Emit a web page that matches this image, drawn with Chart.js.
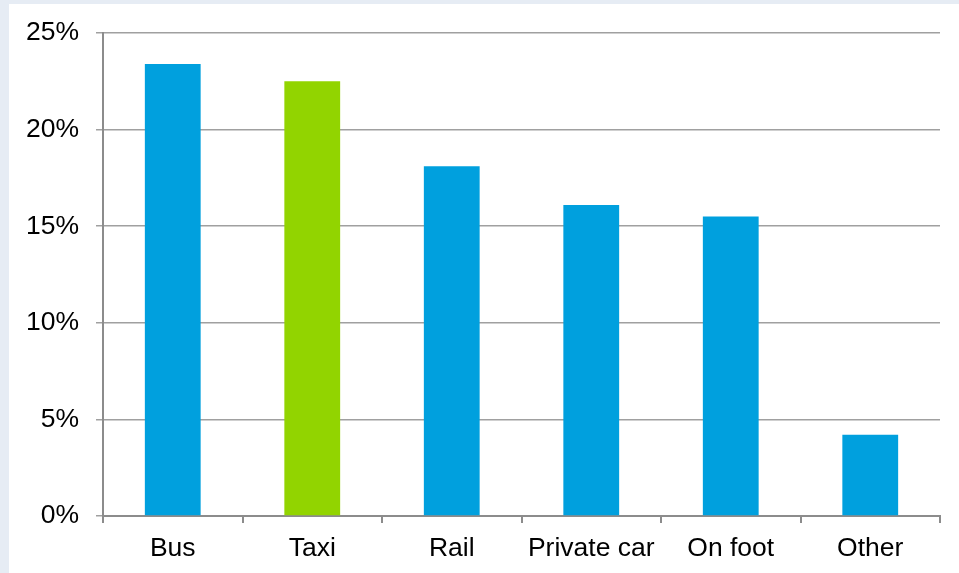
<!DOCTYPE html>
<html>
<head>
<meta charset="utf-8">
<script src="https://cdn.jsdelivr.net/npm/chart.js@4"></script>
<style>
  html, body { margin: 0; padding: 0; background: #e6ecf4; }
  #wrap { position: absolute; left: 9px; top: 4px; width: 950px; height: 569px; background: #fff; }
  canvas { display: block; }
</style>
</head>
<body>
<div id="wrap"><canvas id="myChart" width="950" height="569"></canvas></div>
<script>
const modes = ['Bus', 'Taxi', 'Rail', 'Private car', 'On foot', 'Other'];
const shares = [23.4, 22.5, 18.1, 16.1, 15.5, 4.2];
const barColors = ['#00a0de', '#92d400', '#00a0de', '#00a0de', '#00a0de', '#00a0de'];
const yTicks = [0, 5, 10, 15, 20, 25];

const labelFont = { family: '"Liberation Sans", Arial, sans-serif', size: 26.5 };

new Chart(document.getElementById('myChart'), {
  type: 'bar',
  data: {
    labels: modes,
    datasets: [{
      data: shares,
      backgroundColor: barColors,
      barPercentage: 0.4,
      categoryPercentage: 1
    }]
  },
  options: {
    responsive: false,
    animation: false,
    layout: { padding: { left: 0, top: 29, right: 19, bottom: 0 } },
    plugins: {
      legend: { display: false },
      tooltip: { enabled: false }
    },
    scales: {
      x: {
        afterFit: (s) => { s.height = 57; },
        grid: {
          offset: true,
          drawOnChartArea: false,
          tickLength: 7,
          color: '#8c8c8c',
          lineWidth: 2
        },
        border: { color: '#8c8c8c', width: 2 },
        ticks: { color: '#000', font: labelFont, padding: 10 }
      },
      y: {
        min: 0,
        max: 25,
        afterFit: (s) => { s.width = 94; s.paddingTop = 0; s.paddingBottom = 0; },
        afterBuildTicks: (s) => { s.ticks = yTicks.map(v => ({ value: v })); },
        grid: { tickLength: 7, color: '#a0a0a0', lineWidth: 1.5 },
        border: { color: '#8c8c8c', width: 2 },
        ticks: {
          color: '#000',
          font: labelFont,
          padding: 17,
          callback: (v) => v + '%'
        }
      }
    }
  }
});
</script>
</body>
</html>
